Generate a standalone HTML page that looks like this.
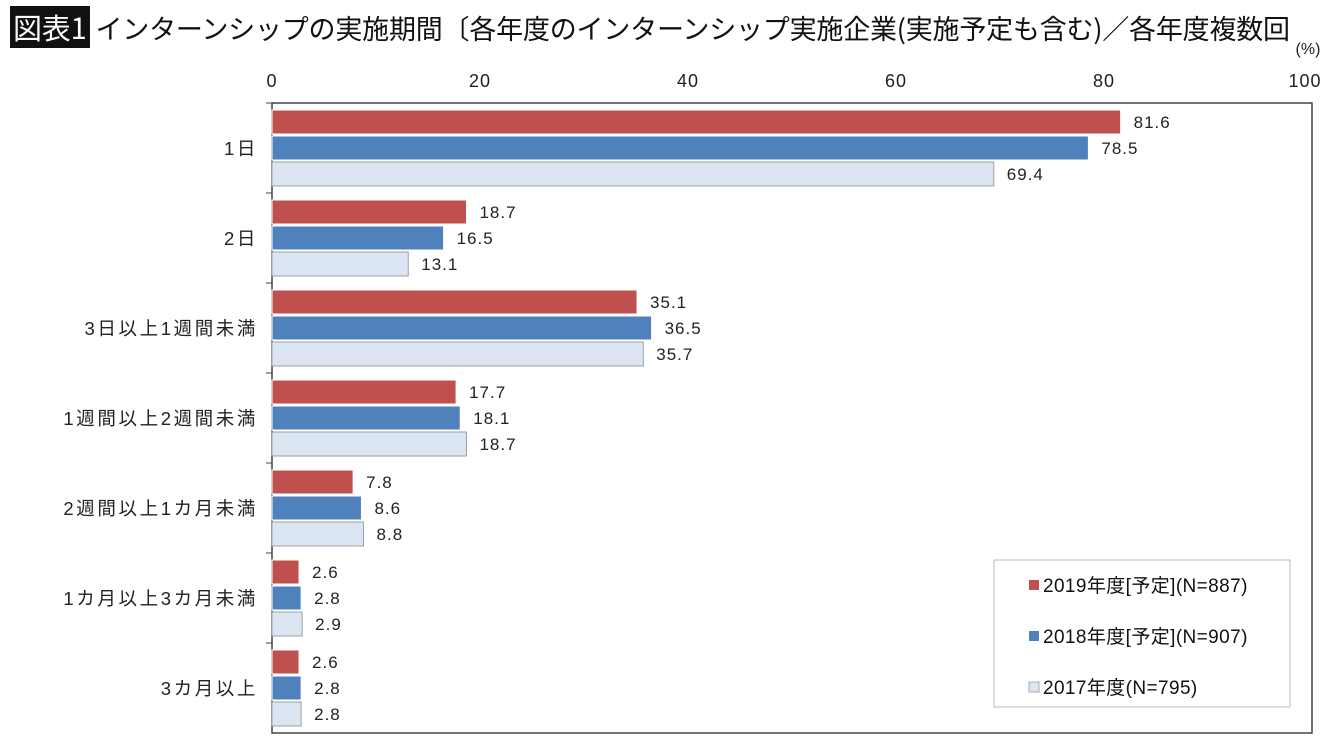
<!DOCTYPE html>
<html><head><meta charset="utf-8"><style>
body{margin:0;width:1340px;height:745px;background:#fff;overflow:hidden;font-family:"Liberation Sans","Noto Sans CJK JP",sans-serif;}
#title{position:absolute;left:10px;top:6px;font-size:27px;color:#111;white-space:nowrap;font-family:"Noto Sans CJK JP",sans-serif;font-weight:normal;letter-spacing:-0.2px;}
#title .box{background:#111;color:#fff;padding:0 3px;margin-right:6px;font-size:29px;}
svg{position:absolute;left:0;top:0}
</style></head><body>
<div id="title"><span class="box">図表1</span>インターンシップの実施期間〔各年度のインターンシップ実施企業(実施予定も含む)／各年度複数回</div>
<svg id="c" width="1340" height="745"></svg>
<script>
const categories=["1日","2日","3日以上1週間未満","1週間以上2週間未満","2週間以上1カ月未満","1カ月以上3カ月未満","3カ月以上"];
const s2019=[81.6,18.7,35.1,17.7,7.8,2.6,2.6];
const s2018=[78.5,16.5,36.5,18.1,8.6,2.8,2.8];
const s2017=[69.4,13.1,35.7,18.7,8.8,2.9,2.8];
const ticks=[0,20,40,60,80,100];
const seriesNames=["2019年度[予定](N=887)","2018年度[予定](N=907)","2017年度(N=795)"];
const NS="http://www.w3.org/2000/svg",svg=document.getElementById('c');
const L=272,R=1312,T=103,B=733;
const x=v=>L+(R-L)*v/100;
const gh=(B-T)/categories.length;
function el(t,a,p){const e=document.createElementNS(NS,t);for(const k in a)e.setAttribute(k,a[k]);(p||svg).appendChild(e);return e;}
const frame=el('rect',{x:L,y:T,width:R-L,height:B-T,fill:'none',stroke:'#444','stroke-width':1.5});


ticks.forEach(t=>{const tx=el('text',{x:Math.min(x(t),1305),y:87,'text-anchor':'middle','font-size':18,fill:'#222','letter-spacing':1});tx.textContent=t;

});
const pc=el('text',{x:1308,y:54,'text-anchor':'middle','font-size':16,fill:'#222'});pc.textContent='(%)';


const cols=[['#c0504d','#fff'],['#4f81bd','#fff'],['#dce6f2','#9aa0a8']];
const data=[s2019,s2018,s2017];
categories.forEach((c,i)=>{
 const g0=T+i*gh;
 const lb=el('text',{x:258,y:g0+gh/2+7,'text-anchor':'end','font-size':18.5,fill:'#222','letter-spacing':2.6});lb.textContent=c;
 
 
 el('line',{x1:L-6,x2:L,y1:g0,y2:g0,stroke:'#444'});
 data.forEach((s,j)=>{
  const y=g0+7+j*26;
  const r=el('rect',{x:L,y:y,width:x(s[i])-L,height:24,fill:cols[j][0],stroke:cols[j][1],'stroke-width':1});
  
  
  const v=el('text',{x:x(s[i])+13,y:y+18,'font-size':17,fill:'#222','letter-spacing':1});v.textContent=s[i].toFixed(1);
  
  
 });
});
const lg=el('rect',{x:994,y:560,width:296,height:147,fill:'#fff',stroke:'#bbb'});


seriesNames.forEach((n,j)=>{
 const y=585+j*51;
 el('rect',{x:1029,y:y-5,width:10,height:10,fill:cols[j][0],stroke:j==2?'#aaa':'none'});
 const t=el('text',{x:1043,y:y+7,'font-size':19,fill:'#111','letter-spacing':0.4});t.textContent=n;
 
 
});
</script>
</body></html>
